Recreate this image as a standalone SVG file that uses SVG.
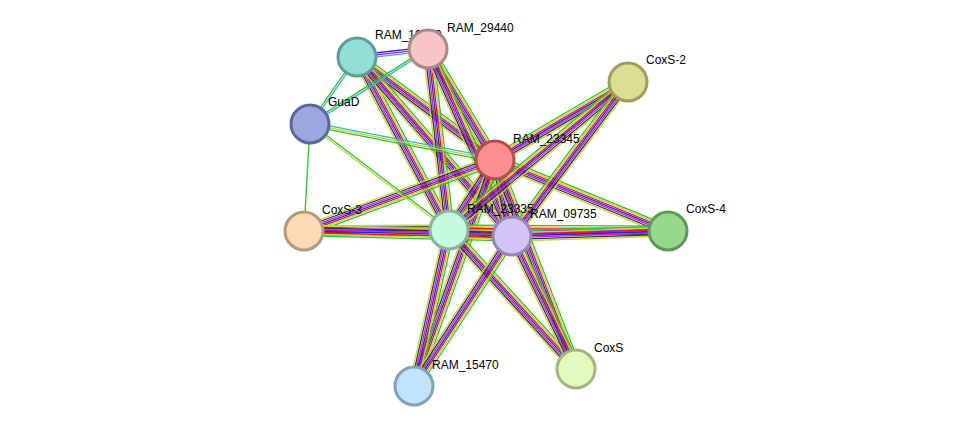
<svg xmlns="http://www.w3.org/2000/svg" xmlns:xlink="http://www.w3.org/1999/xlink" width="976" height="432" viewBox="0 0 976 432">
<style>
line{vector-effect:non-scaling-stroke;stroke-width:1.3;fill:none}
.g{stroke:#2ec52e}.r{stroke:#f01010}.b{stroke:#2222f0}.m{stroke:#c020d0}.k{stroke:#333}.y{stroke:#c3d63a}.c{stroke:#30b8d8}
circle{stroke-width:3}
text{font-family:"Liberation Sans",Arial,sans-serif;font-size:12px;fill:#000}
</style>
<defs>
<g id="full">
<line x1="0" x2="1" y1="-5" y2="-5" class="g"/>
<line x1="0" x2="1" y1="-3.3" y2="-3.3" class="y"/>
<line x1="0" x2="1" y1="-1.6" y2="-1.6" class="r"/>
<line x1="0" x2="1" y1="0" y2="0" class="b"/>
<line x1="0" x2="1" y1="1.6" y2="1.6" class="m"/>
<line x1="0" x2="1" y1="3.3" y2="3.3" class="k"/>
<line x1="0" x2="1" y1="5" y2="5" class="y"/>
</g>
<g id="bmc"><line x1="0" x2="1" y1="-2" y2="-2" class="b"/><line x1="0" x2="1" y1="0" y2="0" class="m"/><line x1="0" x2="1" y1="2" y2="2" class="c"/></g>
<g id="cg"><line x1="0" x2="1" y1="-1" y2="-1" class="c"/><line x1="0" x2="1" y1="1" y2="1" class="g"/></g>
<g id="cyg"><line x1="0" x2="1" y1="-2" y2="-2" class="c"/><line x1="0" x2="1" y1="0" y2="0" class="y"/><line x1="0" x2="1" y1="2" y2="2" class="g"/></g>
<g id="gy"><line x1="0" x2="1" y1="-1" y2="-1" class="g"/><line x1="0" x2="1" y1="1" y2="1" class="y"/></g>
<g id="g1"><line x1="0" x2="1" y1="0" y2="0" class="g"/></g>
</defs>
<g id="edges">
<use href="#full" transform="translate(357 57) rotate(36.7) scale(172 1)"/>
<use href="#full" transform="translate(357 57) rotate(62.0) scale(196 1)"/>
<use href="#full" transform="translate(357 57) rotate(49.1) scale(237 1)"/>
<use href="#full" transform="translate(428 49) rotate(58.9) scale(130 1)"/>
<use href="#full" transform="translate(428 49) rotate(83.4) scale(182 1)"/>
<use href="#full" transform="translate(428 49) rotate(65.8) scale(205 1)"/>
<use href="#full" transform="translate(495 160) rotate(123.3) scale(84 1)"/>
<use href="#full" transform="translate(495 160) rotate(77.4) scale(78 1)"/>
<use href="#full" transform="translate(495 160) rotate(159.6) scale(204 1)"/>
<use href="#full" transform="translate(495 160) rotate(22.3) scale(187 1)"/>
<use href="#full" transform="translate(495 160) rotate(-30.4) scale(154 1)"/>
<use href="#full" transform="translate(495 160) rotate(109.7) scale(240 1)"/>
<use href="#full" transform="translate(495 160) rotate(68.8) scale(224 1)"/>
<use href="#full" transform="translate(449 230) rotate(5.4) scale(63 1)"/>
<use href="#full" transform="translate(449 230) rotate(179.6) scale(145 1)"/>
<use href="#full" transform="translate(449 230) rotate(0.3) scale(219 1)"/>
<use href="#full" transform="translate(449 230) rotate(102.6) scale(160 1)"/>
<use href="#full" transform="translate(449 230) rotate(47.6) scale(188 1)"/>
<use href="#full" transform="translate(449 230) rotate(-39.6) scale(232 1)"/>
<use href="#full" transform="translate(512 236) rotate(181.4) scale(208 1)"/>
<use href="#full" transform="translate(512 236) rotate(-1.8) scale(156 1)"/>
<use href="#full" transform="translate(512 236) rotate(123.2) scale(179 1)"/>
<use href="#full" transform="translate(512 236) rotate(64.3) scale(148 1)"/>
<use href="#full" transform="translate(512 236) rotate(-53.0) scale(193 1)"/>
<use href="#bmc" transform="translate(357 57) rotate(-6.4) scale(71 1)"/>
<use href="#cg" transform="translate(357 57) rotate(125) scale(82 1)"/>
<use href="#cg" transform="translate(428 49) rotate(147.6) scale(140 1)"/>
<use href="#cyg" transform="translate(310 124) rotate(11.0) scale(188 1)"/>
<use href="#gy" transform="translate(310 124) rotate(37.3) scale(175 1)"/>
<use href="#g1" transform="translate(310 124) rotate(93.2) scale(107 1)"/>
</g>
<g id="n-RAM_19250"><circle cx="357" cy="57" r="19" fill="#93dfd6" stroke="#5f9e96"/><text x="375" y="39">RAM_19250</text></g>
<g id="n-RAM_29440"><circle cx="428" cy="49" r="19" fill="#f6c5c5" stroke="#b08686"/><text x="447" y="32">RAM_29440</text></g>
<g id="n-CoxS-2"><circle cx="628" cy="82" r="19" fill="#dede92" stroke="#9e9e5a"/><text x="646" y="64">CoxS-2</text></g>
<g id="n-GuaD"><circle cx="310" cy="124" r="19" fill="#9da6e0" stroke="#5c67a0"/><text x="328" y="106">GuaD</text></g>
<g id="n-RAM_23345"><circle cx="495" cy="160" r="19" fill="#fb8f8f" stroke="#b34f4f"/><text x="513" y="143">RAM_23345</text></g>
<g id="n-CoxS-3"><circle cx="304" cy="231" r="19" fill="#fdd9b5" stroke="#b49a7e"/><text x="322" y="214">CoxS-3</text></g>
<g id="n-CoxS-4"><circle cx="668" cy="231" r="19" fill="#96d98d" stroke="#5d9b55"/><text x="686" y="213">CoxS-4</text></g>
<g id="n-CoxS"><circle cx="576" cy="369" r="19" fill="#e0fbbd" stroke="#a2b77f"/><text x="594" y="352">CoxS</text></g>
<g id="n-RAM_15470"><circle cx="414" cy="386" r="19" fill="#c0e4f9" stroke="#7fa4b8"/><text x="432" y="369">RAM_15470</text></g>
<g id="n-RAM_23335"><circle cx="449" cy="230" r="19" fill="#c3fbe0" stroke="#86b49c"/><text x="467" y="213">RAM_23335</text></g>
<g id="n-RAM_09735"><circle cx="512" cy="236" r="19" fill="#d3c4f6" stroke="#9785b6"/><text x="530" y="218">RAM_09735</text></g>
</svg>
